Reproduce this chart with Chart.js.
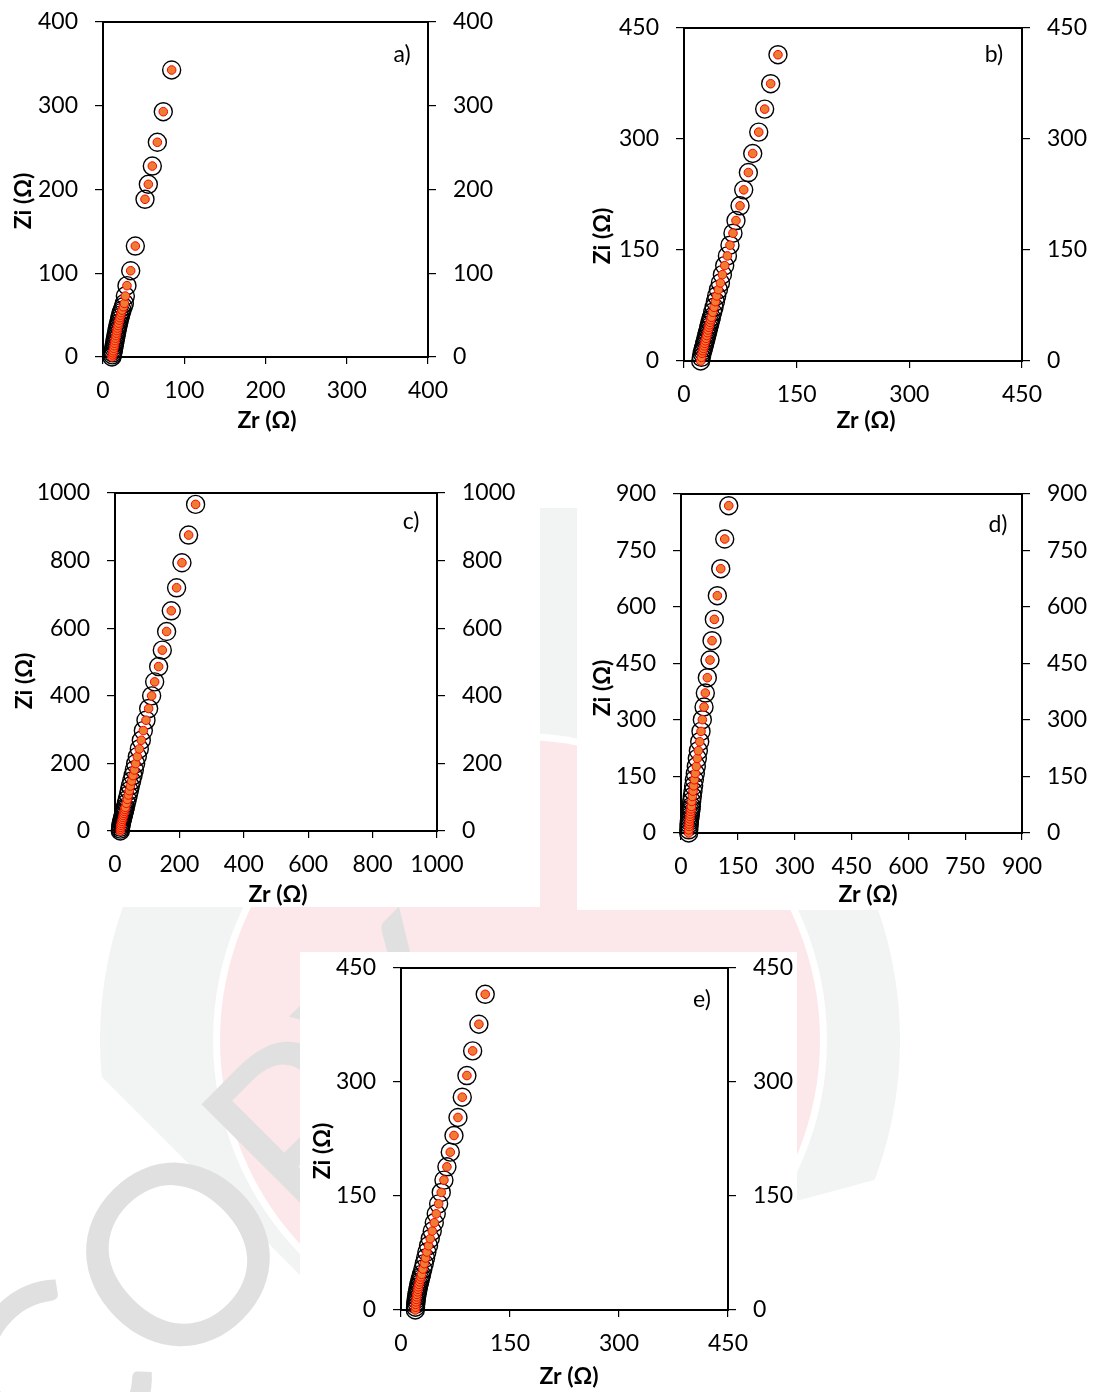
<!DOCTYPE html>
<html lang="en">
<head>
  <meta charset="UTF-8" />
  <title>Nyquist plots a) - e)</title>
  <style>
    body {
      margin: 0;
      background: #fff;
      font-family: Lato, "Open Sans", sans-serif;
    }
    #page {
      position: relative;
      width: 1098px;
      height: 1392px;
      overflow: hidden;
    }
    #backdrop, .sheet, .panel {
      position: absolute;
    }
    .sheet {
      background: #fff;
    }
  </style>
</head>
<body>
  <div id="page">
    <canvas id="backdrop" width="1098" height="1392"></canvas>
    <div class="sheet" style="left:0;top:0;width:1090px;height:440px"></div>
    <div class="sheet" style="left:0;top:440px;width:540px;height:467px"></div>
    <div class="sheet" style="left:540px;top:440px;width:37px;height:68px"></div>
    <div class="sheet" style="left:577px;top:478px;width:521px;height:432px"></div>
    <div class="sheet" style="left:300px;top:952px;width:497px;height:440px"></div>
  </div>

  <script src="https://cdn.jsdelivr.net/npm/chart.js"></script>
  <script>
    // Zr / Zi readings (Ω), high frequency first
    const zrA = [11, 11.6, 12.1, 12.6, 13.2, 13.7, 14.3, 14.8, 15.4, 16, 16.6, 17.2, 17.8, 18.5, 19.2, 20, 20.8, 21.6, 22.4, 23.5, 25, 26.3, 27.5, 29.5, 34.1, 39.8, 51.7, 55.8, 60.7, 66.9, 74.2, 84.5];
    const ziA = [0, 2.5, 5, 7.5, 10.5, 13.5, 16.5, 19.5, 22.5, 25.5, 28.5, 31.5, 34.5, 37.5, 40.5, 44, 47, 50, 53, 56, 60, 64, 72.8, 85.2, 103, 132.5, 188.3, 206.2, 228, 256.4, 292.9, 342.7];

    const zrB = [22.2, 23.2, 24.1, 25, 25.9, 26.8, 27.6, 28.5, 29.4, 30.3, 31.2, 32.1, 33, 33.9, 34.7, 35.6, 36.5, 38.2, 40, 41.8, 43.5, 45.8, 48.5, 51.1, 54.2, 57.8, 61.2, 65.2, 69.2, 74.6, 79.5, 85.7, 91.5, 99.5, 107.4, 115.4, 125.1];
    const ziB = [0, 5, 10.4, 13.8, 17.1, 20.5, 23.9, 27.3, 30.7, 34.5, 38.3, 41.9, 45.5, 48.9, 52.3, 55.7, 59.1, 65.9, 72.6, 80.2, 87.9, 96.4, 105.5, 116.7, 128.9, 142, 156.5, 172.7, 189.8, 209.7, 231.3, 254.7, 280.4, 309.3, 340.4, 374.7, 413.9];

    const zrC = [16.5, 17, 17.6, 18.6, 19.7, 21.2, 22.8, 24.3, 25.9, 27.4, 29, 30.5, 32.1, 35.2, 38.3, 41.4, 44.5, 47.6, 51.7, 55.9, 60, 64.1, 69.3, 75.5, 81.7, 88, 96.2, 104.5, 113.8, 123.2, 135.5, 146.9, 160.3, 174.8, 191.3, 207.9, 228.6, 250.3];
    const ziC = [0, 5.5, 10.9, 16.8, 22.7, 28.6, 34.5, 40.4, 46.4, 52.3, 58.2, 64.1, 70, 81.9, 93.7, 106.6, 119.4, 133.2, 148, 163.8, 180.6, 199.4, 220.1, 242.8, 268.5, 297.1, 327.7, 362.3, 399.8, 441.2, 486.5, 535.1, 590.2, 651.5, 719.6, 793.6, 875.6, 966.3];

    const zrD = [20.2, 20.5, 21.1, 21.5, 22, 22.9, 23.8, 24.6, 25.5, 26.4, 27.3, 28.2, 29.9, 31.7, 33.4, 35.2, 37.8, 40.4, 43.1, 45.8, 49.4, 52.8, 56.3, 60.8, 64.2, 69.5, 76.6, 81.9, 88, 95.9, 104.9, 115.4, 126];
    const ziD = [0, 8.5, 17.5, 24, 30.7, 37.5, 44, 50.5, 57.3, 64, 70.6, 83.9, 97.1, 111.3, 125.4, 141.4, 158.2, 176.8, 198, 218.5, 242.4, 269.7, 300.8, 334.5, 371.6, 412.3, 459.2, 510.5, 567.1, 630, 701.6, 780.5, 868.9];

    const zrE = [19.7, 20, 20.2, 20.6, 21, 21.5, 22, 22.7, 23.4, 24, 24.7, 25.6, 26.5, 27.4, 28.3, 30.1, 32, 33.8, 35.6, 37.9, 40.2, 43, 45.8, 48.5, 51.8, 55.4, 59.1, 63.2, 67.8, 72.9, 78.4, 84.3, 90.7, 98.6, 107.2, 115.9];
    const ziE = [0, 3.7, 7.4, 10.7, 14, 17.3, 20.6, 23.9, 27.2, 30.5, 33.8, 37, 40.3, 43.6, 46.9, 53.9, 61, 68.4, 76.3, 84.6, 93.8, 103.9, 114.8, 126.6, 139.7, 154.7, 170.9, 188.4, 207.7, 229.6, 253.3, 280, 308.5, 340.9, 376, 415.4];

    const ticksA = [0, 100, 200, 300, 400];
    const ticksB = [0, 150, 300, 450];
    const ticksC = [0, 200, 400, 600, 800, 1000];
    const ticksD = [0, 150, 300, 450, 600, 750, 900];
    const ticksE = [0, 150, 300, 450];

    const panelLetters = ['a)', 'b)', 'c)', 'd)', 'e)'];

    // plot frame in page pixels, plus where the axis titles and letter sit
    const panels = [
      { zr: zrA, zi: ziA, ticks: ticksA, box: [103, 22, 428, 357], xt: [267, 421], yt: [24, 201], tag: [402, 55] },
      { zr: zrB, zi: ziB, ticks: ticksB, box: [684, 28, 1022, 361], xt: [866, 421], yt: [603, 236], tag: [994, 55] },
      { zr: zrC, zi: ziC, ticks: ticksC, box: [115, 493, 437, 831], xt: [278, 895], yt: [25, 681], tag: [411, 522] },
      { zr: zrD, zi: ziD, ticks: ticksD, box: [681, 494, 1022, 833], xt: [868, 895], yt: [603, 688], tag: [998, 525] },
      { zr: zrE, zi: ziE, ticks: ticksE, box: [401, 968, 728, 1310], xt: [569, 1377], yt: [323, 1151], tag: [702, 1000] }
    ];

    // top pad must exceed half a tick label + tick padding, or Chart.js grows it
    const PAD_SIDE = 100, PAD_TOP = 32, PAD_BOTTOM = 90;
    const tickFont = { family: 'Lato, "Open Sans", sans-serif', size: 23 };

    // faint watermark behind the figure
    function drawBackdrop() {
      const bg = document.getElementById('backdrop').getContext('2d');
      bg.save();
      bg.beginPath();
      bg.moveTo(0, 0);
      bg.lineTo(1098, 0);
      bg.lineTo(1098, 1120);
      bg.lineTo(800, 1200);
      bg.lineTo(300, 1275);
      bg.lineTo(0, 975);
      bg.closePath();
      bg.clip();
      bg.fillStyle = '#f2f3f3';
      bg.beginPath(); bg.arc(500, 1040, 400, 0, Math.PI * 2); bg.fill();
      bg.fillRect(540, 508, 37, 200);
      bg.fillStyle = '#ffffff';
      bg.beginPath(); bg.arc(520, 1040, 307, 0, Math.PI * 2); bg.fill();
      bg.fillStyle = '#fce7ea';
      bg.beginPath(); bg.arc(520, 1040, 300, 0, Math.PI * 2); bg.fill();
      bg.restore();

      bg.save();
      bg.translate(55, 1504);
      bg.rotate(-Math.PI / 4);
      bg.fillStyle = '#e0e0e0';
      bg.font = '250px Lato, "Open Sans", sans-serif';
      bg.fillText('COPY', 0, 0);
      bg.restore();
    }

    const panelDecor = {
      id: 'panelDecor',
      beforeDatasetsDraw(chart) {
        const { ctx, chartArea: a } = chart;
        ctx.save();
        ctx.strokeStyle = '#000';
        ctx.lineWidth = 2;
        ctx.strokeRect(a.left, a.top, a.right - a.left, a.bottom - a.top);
        ctx.restore();
      },
      afterDraw(chart, args, opts) {
        const { ctx } = chart;
        const ox = opts.origin[0], oy = opts.origin[1];
        ctx.save();
        ctx.fillStyle = '#000';
        ctx.textAlign = 'center';
        ctx.textBaseline = 'middle';
        ctx.font = 'bold 23px Lato, "Open Sans", sans-serif';
        ctx.fillText('Zr (Ω)', opts.xt[0] - ox, opts.xt[1] - oy);
        ctx.save();
        ctx.translate(opts.yt[0] - ox, opts.yt[1] - oy);
        ctx.rotate(-Math.PI / 2);
        ctx.fillText('Zi (Ω)', 0, 0);
        ctx.restore();
        ctx.font = '23px Lato, "Open Sans", sans-serif';
        ctx.fillText(opts.tag, opts.tagPos[0] - ox, opts.tagPos[1] - oy);
        ctx.restore();
      }
    };

    function axis(position, ticks, fitWidth) {
      return {
        type: 'linear',
        position: position,
        min: ticks[0],
        max: ticks[ticks.length - 1],
        afterBuildTicks: s => { s.ticks = ticks.map(v => ({ value: v })); },
        afterFit: s => {
          if (fitWidth) s.width = PAD_SIDE; else s.height = PAD_BOTTOM;
        },
        ticks: {
          autoSkip: false,
          maxRotation: 0,
          color: '#000',
          font: tickFont,
          padding: fitWidth ? 17 : 13,
          callback: v => String(v)
        },
        grid: {
          drawOnChartArea: false,
          drawTicks: true,
          tickLength: fitWidth ? 8 : 7,
          color: '#000',
          lineWidth: 1.2
        },
        border: { display: false }
      };
    }

    drawBackdrop();

    panels.forEach((p, i) => {
      const [L, T, R, B] = p.box;
      const left = L - PAD_SIDE, top = T - PAD_TOP;
      const holder = document.createElement('div');
      holder.className = 'panel';
      holder.style.left = left + 'px';
      holder.style.top = top + 'px';
      const canvas = document.createElement('canvas');
      canvas.width = (R - L) + 2 * PAD_SIDE;
      canvas.height = (B - T) + PAD_TOP + PAD_BOTTOM;
      holder.appendChild(canvas);
      document.getElementById('page').appendChild(holder);

      const pts = p.zr.map((x, k) => ({ x: x, y: p.zi[k] }));

      new Chart(canvas, {
        type: 'scatter',
        data: {
          datasets: [
            {
              label: 'fit',
              data: pts,
              pointRadius: 4.3,
              pointBackgroundColor: '#ED7D31',
              pointBorderColor: '#FF0000',
              pointBorderWidth: 1,
              clip: false
            },
            {
              label: 'measured',
              data: pts,
              pointRadius: 9,
              pointBackgroundColor: 'rgba(0,0,0,0)',
              pointBorderColor: '#000',
              pointBorderWidth: 1.4,
              clip: false
            }
          ]
        },
        options: {
          responsive: false,
          animation: false,
          devicePixelRatio: 1,
          layout: { autoPadding: false, padding: { top: PAD_TOP, left: 0, right: 0, bottom: 0 } },
          scales: {
            x: axis('bottom', p.ticks, false),
            y: axis('left', p.ticks, true),
            y2: axis('right', p.ticks, true)
          },
          plugins: {
            legend: { display: false },
            tooltip: { enabled: false },
            panelDecor: { origin: [left, top], xt: p.xt, yt: p.yt, tag: panelLetters[i], tagPos: p.tag }
          }
        },
        plugins: [panelDecor]
      });
    });
  </script>
</body>
</html>
